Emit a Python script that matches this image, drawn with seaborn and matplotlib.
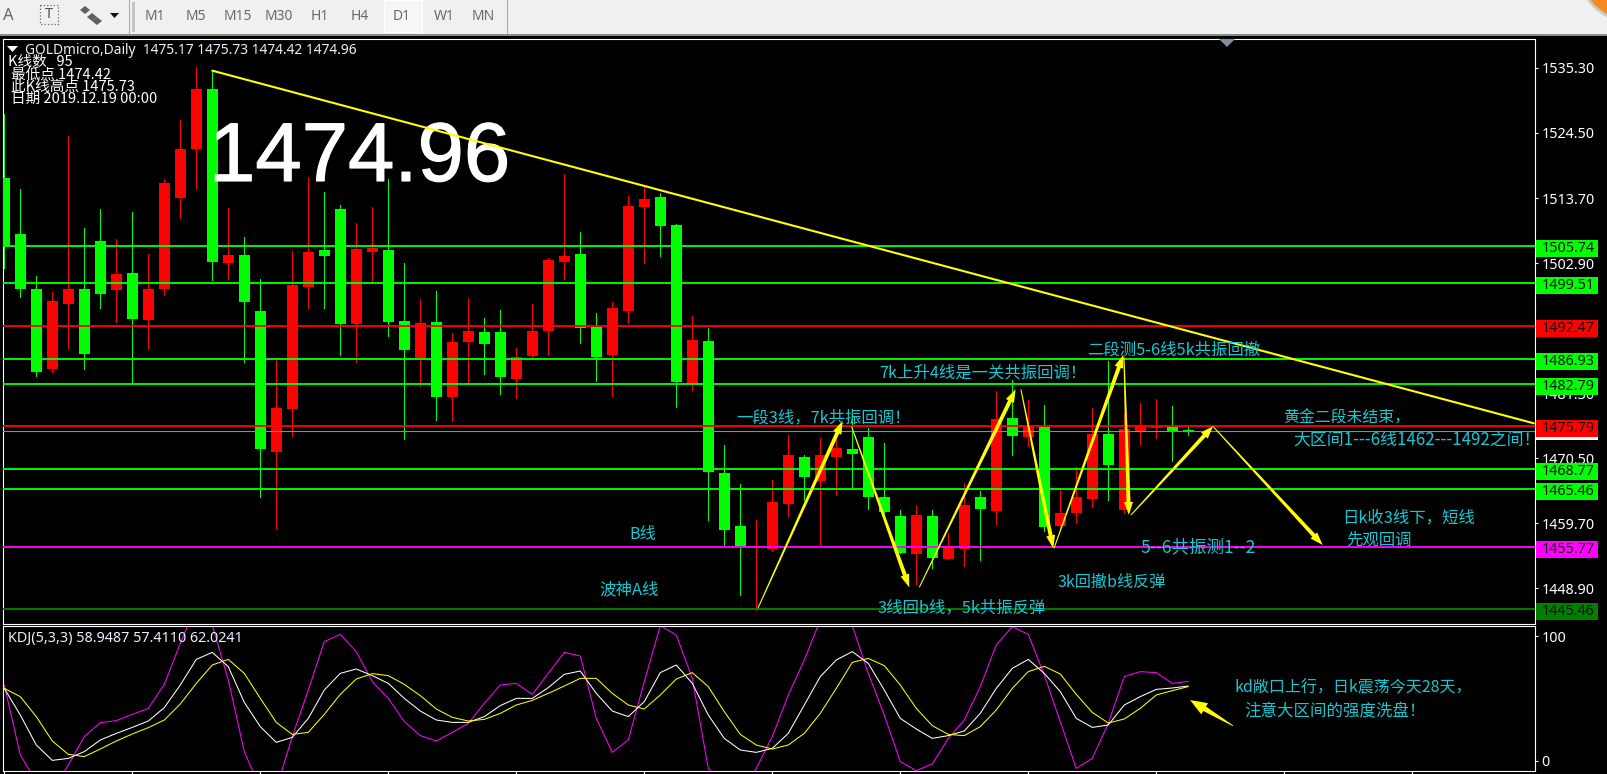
import numpy as np
import pandas as pd
import matplotlib
matplotlib.use("Agg")
import matplotlib.pyplot as plt
import matplotlib.patheffects as pe
import seaborn as sns
from matplotlib.patches import Polygon, Rectangle, Circle
from matplotlib.transforms import Affine2D

# ---------------- data ----------------
opens = [1517.03,1507.72,1498.60,1485.31,1496.10,1498.60,1506.56,1498.43,1501.25,1493.45,
         1498.60,1513.76,1521.84,1531.81,1502.91,1504.24,1494.94,1471.54,1478.67,1498.93,
         1505.07,1511.88,1492.78,1504.74,1505.07,1493.28,1487.14,1493.11,1480.66,1489.79,
         1491.45,1491.45,1483.65,1487.47,1491.62,1503.07,1504.40,1492.28,1487.64,1494.94,
         1512.21,1513.87,1509.22,1482.99,1489.96,1468.05,1459.24,1455.67,1455.42,1462.90,
         1470.71,1466.73,1470.71,1472.04,1474.03,1464.06,1460.91,1454.59,1460.91,1453.76,
         1455.42,1464.06,1461.74,1477.18,1474.03,1475.68,1459.24,1461.40,1463.73,1474.53,
         1461.90,1475.02,1475.52,1475.68,1475.17]
closes = [1505.73,1498.65,1484.86,1496.60,1498.60,1487.85,1497.76,1501.08,1493.61,1498.60,
          1516.20,1521.84,1531.81,1503.07,1504.24,1496.44,1472.04,1478.83,1499.26,1504.74,
          1504.07,1492.78,1505.23,1505.40,1493.11,1488.47,1492.95,1480.66,1489.79,1491.62,
          1489.46,1483.98,1487.30,1491.62,1503.41,1504.07,1492.11,1487.30,1495.44,1512.37,
          1513.54,1509.05,1483.15,1490.13,1468.22,1458.58,1455.92,1455.84,1463.23,1471.04,
          1467.39,1471.04,1472.20,1471.21,1464.06,1461.57,1454.76,1461.07,1453.93,1455.67,
          1462.73,1462.07,1477.01,1474.19,1475.85,1459.08,1461.40,1464.06,1474.53,1469.38,
          1475.35,1475.85,1475.85,1475.02,1474.96]
highs = [1527.66,1515.20,1500.75,1498.10,1524.00,1508.72,1511.88,1506.89,1511.38,1504.40,
         1516.86,1526.66,1535.46,1534.85,1512.04,1507.23,1500.25,1486.81,1504.90,1517.19,
         1514.70,1512.54,1509.55,1512.21,1516.86,1502.91,1496.94,1498.26,1491.28,1497.10,
         1493.78,1495.11,1488.80,1496.10,1503.74,1517.69,1508.06,1494.61,1496.44,1514.04,
         1515.53,1514.54,1509.38,1494.11,1492.11,1472.70,1466.23,1460.24,1466.89,1474.36,
         1471.04,1473.86,1475.19,1478.67,1475.52,1473.02,1461.90,1462.73,1461.90,1458.08,
         1466.39,1465.06,1481.66,1483.49,1480.16,1479.33,1465.23,1469.05,1478.83,1486.64,
         1477.84,1479.66,1480.33,1479.17,1475.73]
lows = [1502.13,1497.32,1484.20,1484.86,1488.85,1485.31,1495.49,1493.16,1482.99,1488.63,
        1497.60,1510.43,1515.20,1500.08,1500.25,1486.47,1464.06,1458.75,1474.19,1495.44,
        1495.44,1487.64,1486.47,1499.59,1490.79,1473.70,1482.49,1476.85,1476.68,1483.15,
        1484.48,1481.16,1480.49,1487.14,1487.64,1500.25,1489.62,1483.32,1480.82,1492.95,
        1502.91,1504.07,1479.00,1481.82,1460.24,1455.92,1447.78,1445.29,1455.09,1460.74,
        1463.56,1456.09,1464.40,1465.56,1462.07,1461.40,1454.76,1449.61,1452.27,1453.76,
        1452.60,1453.60,1459.58,1471.04,1472.54,1458.41,1459.08,1459.74,1462.40,1463.56,
        1461.40,1472.87,1473.86,1470.05,1474.42]

k_line = [58.1,36.8,12.8,0.5,2.1,7.5,16.8,22.1,26.9,32.0,42.7,60.8,81.3,86.9,75.5,46.9,27.5,14.9,18.9,34.1,
          56.8,70.1,73.6,68.3,62.1,50.1,40.0,32.8,30.9,30.9,35.5,44.3,50.1,50.1,58.7,69.3,72.0,54.1,
          40.0,35.5,47.5,70.7,76.8,62.1,36.8,18.1,8.8,6.9,10.1,22.1,44.8,67.5,80.8,87.5,78.1,56.8,34.1,25.6,
          18.1,20.3,24.0,38.1,58.1,74.1,81.3,70.1,55.5,34.1,26.9,28.8,44.8,51.5,57.3,58.4,60.0]
d_line = [58.1,51.5,35.5,16.0,5.3,3.5,9.6,16.0,21.6,26.7,32.8,45.6,62.1,76.8,81.3,70.1,50.1,30.9,21.3,22.9,
          37.3,53.3,65.6,69.9,68.3,61.3,52.3,41.6,34.9,32.0,33.3,38.1,44.8,48.5,54.1,60.0,66.1,66.1,
          54.1,44.8,41.6,52.8,65.6,70.7,59.5,39.5,21.3,12.8,9.6,12.8,22.1,38.1,58.1,78.9,82.1,76.3,60.8,42.1,
          28.3,21.3,20.3,27.5,40.8,58.1,71.5,75.7,69.6,53.3,38.9,30.4,33.6,42.1,52.8,56.3,59.5]
j_line = [60.8,4.8,-16.5,-24.5,-3.2,19.5,30.7,32.3,37.3,42.1,61.3,94.1,124.8,108.8,64.8,7.5,-21.9,-21.9,19.5,56.8,
          95.5,101.3,87.5,63.5,50.1,31.5,20.3,16.0,22.9,30.1,46.1,60.8,62.1,53.3,70.1,86.9,84.0,34.1,
          6.9,16.8,63.5,108.3,100.8,66.1,-5.9,-19.2,-24.5,-5.9,19.5,52.8,80.8,112.8,119.5,108.3,70.1,36.8,-0.5,-7.7,
          -2.4,18.1,32.8,59.5,92.8,107.5,101.3,68.8,31.5,-5.9,2.1,30.1,67.5,71.5,70.7,62.1,63.7]

level_prices = [1505.74,1499.51,1492.47,1486.93,1482.79,1475.79,1468.77,1465.46,1455.77,1445.46]
bid_price = 1474.96
price_ticks = [1535.30,1524.50,1513.70,1502.90,1492.10,1481.30,1470.50,1459.70,1448.90]
hidden_tick = 1492.10

trend_idx = [13.0, 95.6]
trend_price = [1534.85, 1476.29]

# arrows: start index, start price, tip index, tip price
arrows_main = [
    (47.10,1445.58,52.40,1476.68),
    (52.96,1475.73,56.56,1449.06),
    (57.19,1449.06,63.21,1481.94),
    (63.54,1481.94,65.56,1455.54),
    (65.61,1455.54,69.94,1487.64),
    (69.98,1487.36,70.29,1461.07),
    (70.42,1461.07,75.56,1475.85),
    (75.56,1475.73,82.40,1456.09),
]
arrow_kdj = (76.79,28.2,74.11,48.8)

note_texts = ["一段3线，7k共振回调！","7k上升4线是一关共振回调！","二段测5-6线5k共振回撤","黄金二段未结束，",
              "大区间1---6线1462---1492之间！","日k收3线下，短线","先观回调","5--6共振测1--2","3k回撤b线反弹",
              "3线回b线，5k共振反弹","B线","波神A线","kd敞口上行，日k震荡今天28天，","注意大区间的强度洗盘！"]
info_texts = ["K线数   95","最低点 1474.42","此K线高点 1475.73","日期 2019.12.19 00:00"]
toolbar_texts = ["M1","M5","M15","M30","H1","H4","D1","W1","MN"]

# ---------------- layout (pixels from top-left) ----------------
level_colors = ["#00ff00","#00ff00","#ff0000","#00ff00","#00ff00","#ff0000","#00ff00","#00ff00","#ff00ff","#008000"]
note_pos = [(736,418,11.8),(879,373,11.8),(1087,350,11.8),(1283,418,11.45),(1293,440,12.2),(1342,518,11.8),
            (1346,540,11.8),(1140,547,12.6),(1058,582,11.6),(878,608,11.8),(629,535,11.6),(599,590,11.9),
            (1235,688,11.55),(1244,712,11.85)]
info_pos = [(8,62),(11,75),(11,87),(11,99)]
toolbar_x = [155,196,238,279,320,360,402,444,483]

W, H = 1608, 774
sns.set_theme(style="dark", rc={"axes.facecolor": "black", "figure.facecolor": "black",
                                "axes.edgecolor": "white", "grid.color": "none"})
plt.rcParams["font.family"] = ["Noto Sans CJK SC", "DejaVu Sans"]
fig = plt.figure(figsize=(W/100, H/100), dpi=100, facecolor="black")
pix = Affine2D().scale(1, -1).translate(0, H)

def make_axes(l, t, r, b):
    return fig.add_axes([l/W, 1-b/H, (r-l)/W, (b-t)/H])

ax = make_axes(3.5, 38.5, 1534.5, 623.5)
ax2 = make_axes(3.5, 625.5, 1534.5, 770.5)

df = pd.DataFrame({"i": np.arange(len(opens)), "o": opens, "h": highs, "l": lows, "c": closes,
                   "K": k_line, "D": d_line, "J": j_line})
df["color"] = np.where(df.c >= df.o, "#ff0000", "#00ff00")

ax.vlines(df.i, df.l, df.h, colors=df.color, lw=0.7, zorder=2, antialiased=False)
ax.bar(df.i, (df.c-df.o).abs(), bottom=df[["o", "c"]].min(axis=1), width=11/16, color=df.color,
       linewidth=0, zorder=3, antialiased=False)

for p, col in zip(level_prices, level_colors):
    ax.axhline(p, color=col, lw=1.35, zorder=4)
ax.axhline(bid_price, color="#8a8a8a", lw=0.8, zorder=4)

ax.set_xlim(-0.05, 95.64)
ax.set_ylim(1443.05, 1540.19)
ax2.set_xlim(-0.05, 95.64)
ax2.set_ylim(-7.6, 108.4)

# big price
ax.text(209, 181, "1474.96", transform=pix, color="white", fontsize=60, family="Liberation Sans",
        ha="left", va="baseline", zorder=5, clip_on=False,
        path_effects=[pe.withStroke(linewidth=0.8, foreground="white")])
# trend line
sns.lineplot(x=trend_idx, y=trend_price, ax=ax, color="#ffff00", lw=1.5, zorder=6)

# KDJ
sns.lineplot(data=df, x="i", y="J", ax=ax2, color="#ff00ff", lw=0.75, zorder=2)
sns.lineplot(data=df, x="i", y="K", ax=ax2, color="#ffffff", lw=0.75, zorder=3)
sns.lineplot(data=df, x="i", y="D", ax=ax2, color="#ffff00", lw=0.75, zorder=4)

for a in (ax, ax2):
    a.set_xlabel("")
    a.set_ylabel("")
    a.grid(False)
    for s in a.spines.values():
        s.set_color("white")
        s.set_linewidth(0.8)
    a.yaxis.tick_right()
    a.tick_params(axis="y", colors="white", length=2.5, width=0.8, pad=2.5, labelsize=10.3, labelfontfamily="Noto Sans")

ax.set_xticks([])
ax.set_yticks(price_ticks)
ax.set_yticklabels(["" if t == hidden_tick else f"{t:.2f}" for t in price_ticks])
ax2.set_xticks(np.arange(0, 96, 8))
ax2.set_xticklabels([])
ax2.tick_params(axis="x", colors="white", length=3, width=0.8, bottom=True)
ax2.set_yticks([0, 100])
ax2.set_yticklabels(["0", "100"])

# price boxes
def level_y(p):
    return H - ax.transData.transform((0, p))[1]

yb = level_y(bid_price)
ax.add_patch(Rectangle((1536, yb-7), 62, 16, transform=pix, fc="white", ec="none", zorder=8, clip_on=False))
for p, col in zip(level_prices, level_colors):
    yl = level_y(p)
    ax.add_patch(Rectangle((1536, yl-6), 62, 17, transform=pix, fc=col, ec="none", zorder=9, clip_on=False))
    ax.text(1542, yl+2.5, f"{p:.2f}", transform=pix, color="#101010", fontsize=10.3,
            family="Noto Sans", va="center", ha="left", clip_on=False, zorder=10)

# arrows
def tapered(a, x0, y0, x1, y1, w0=0.5, w1=2.0, hw=4.5, hl=13):
    p0 = a.transData.transform((x0, y0))
    p1 = a.transData.transform((x1, y1))
    d = p1-p0
    d = d/np.hypot(*d)
    n = np.array([-d[1], d[0]])
    nk = p1-d*hl
    pts = [p0+n*w0, nk+n*w1, nk+n*hw, p1, nk-n*hw, nk-n*w1, p0-n*w0]
    a.add_patch(Polygon(pts, closed=True, transform=None, fc="#ffff00", ec="none", zorder=7, clip_on=False))

for arr in arrows_main:
    tapered(ax, *arr)
tapered(ax2, *arrow_kdj, w0=0.4, w1=2.6, hw=6.5, hl=17)

# annotations
for txt, (x, y, fs) in zip(note_texts, note_pos):
    a = ax2 if y > 625 else ax
    a.text(x, y, txt, transform=pix, color="#14c8d4", fontsize=fs, ha="left", va="center",
           zorder=11, clip_on=False)

ax.text(25, 50, "GOLDmicro,Daily  1475.17 1475.73 1474.42 1474.96", transform=pix, color="#e8f2ff",
        fontsize=9.9, family="Noto Sans", ha="left", va="center", zorder=11)
ax.add_patch(Polygon([(7, 46), (18, 46), (12.5, 52)], transform=pix, fc="white", ec="none", zorder=10))
for txt, (x, y) in zip(info_texts, info_pos):
    ax.text(x, y, txt, transform=pix, color="white", fontsize=10.5, ha="left", va="center", zorder=11)
ax.add_patch(Polygon([(1219, 39), (1235, 39), (1227, 47)], transform=pix, fc="#7f8f9f", ec="none", zorder=10, clip_on=False))
ax2.text(8, 638, "KDJ(5,3,3) 58.9487 57.4110 62.0241", transform=pix, color="#e8f2ff", fontsize=10.3,
         family="Noto Sans", ha="left", va="center", zorder=11)

# toolbar
fig.add_artist(Rectangle((0, 0), W, 34, transform=pix, fc="#f0f0f0", ec="none"))
fig.add_artist(Rectangle((0, 34), W, 1.6, transform=pix, fc="#8c8c8c", ec="none"))
fig.add_artist(Circle((1630, -30), 51, transform=pix, fc="#f78a1e", ec="#c8c8c8", lw=2))
fig.add_artist(Rectangle((384, 0), 38, 32, transform=pix, fc="#f6f6f6", ec="#ffffff", lw=0.8))
for sx in (128.5, 506.5):
    fig.add_artist(Rectangle((sx, 0), 1, 34, transform=pix, fc="#a8a8a8", ec="none"))
fig.add_artist(Rectangle((132, 2), 3, 30, transform=pix, fc="#c4c4c4", ec="none"))
for txt, x in zip(toolbar_texts, toolbar_x):
    fig.text(x/W, 1-16/H, txt, color="#6a6a6a", fontsize=10, family="Noto Sans", ha="center", va="center")
fig.text(8/W, 1-16/H, "A", color="#6a6a6a", fontsize=12, fontweight="bold", family="Noto Sans", ha="center", va="center")
fig.add_artist(Rectangle((40, 5), 18, 19, transform=pix, fc="none", ec="#6a6a6a", lw=0.9, ls=":"))
fig.text(49/W, 1-15/H, "T", color="#555555", fontsize=10.5, fontweight="bold", family="Noto Sans", ha="center", va="center")
for cx, cy in ((85, 10), (92, 17), (97, 21)):
    fig.add_artist(Polygon([(cx-5, cy), (cx, cy-4), (cx+5, cy), (cx, cy+4)], transform=pix, fc="#606060", ec="none"))
fig.add_artist(Polygon([(110, 13), (119, 13), (114.5, 18)], transform=pix, fc="#111111", ec="none"))

fig.savefig("out.png", dpi=100, facecolor="black")
